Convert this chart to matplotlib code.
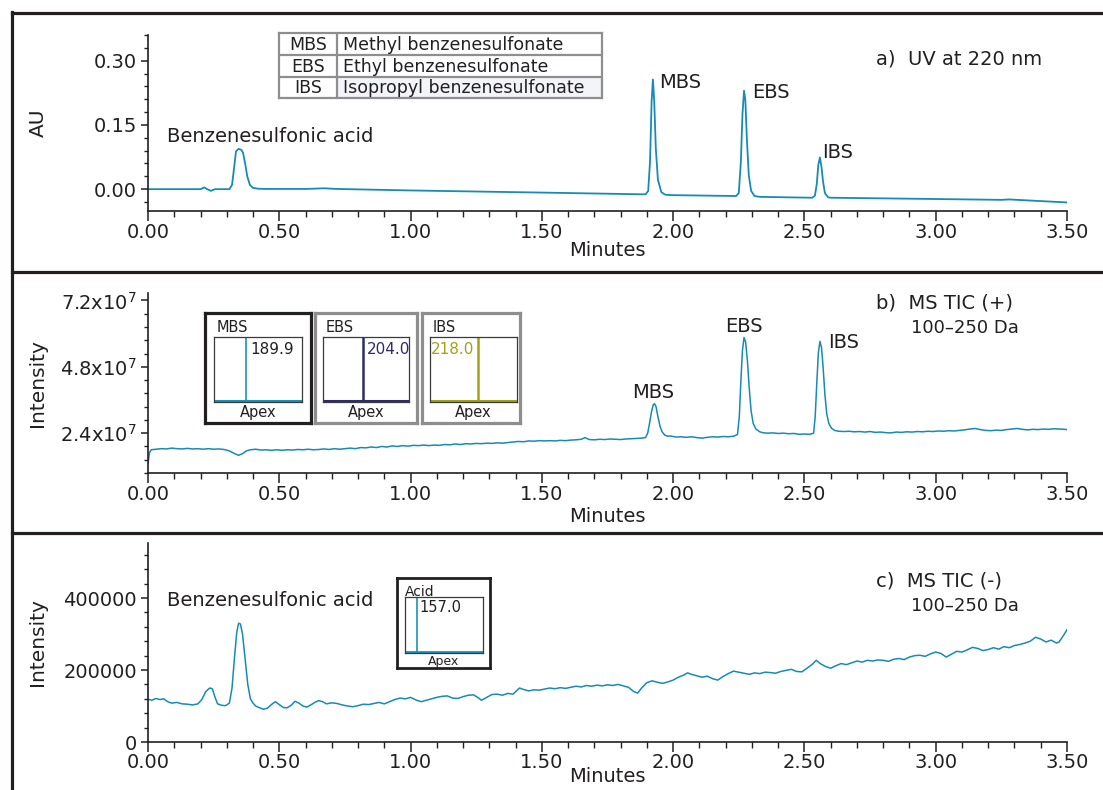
import matplotlib
matplotlib.use("Agg")
import matplotlib.pyplot as plt
from matplotlib.lines import Line2D
from matplotlib.patches import Rectangle
import numpy as np

plt.rcParams['font.family'] = ['DejaVu Sans']
plt.rcParams['mathtext.default'] = 'regular'

# ---------------- data ----------------
# a) UV at 220 nm  (minutes, AU)
uv_t = [0.00, 0.20, 0.215, 0.225, 0.24, 0.255, 0.31, 0.32, 0.328, 0.335, 0.345, 0.355, 0.362,
        0.37, 0.378, 0.388, 0.40, 0.42, 0.45, 0.60, 0.67, 0.72, 1.00, 1.50, 1.88, 1.895, 1.905,
        1.912, 1.918, 1.923, 1.928, 1.934, 1.942, 1.955, 1.97, 2.00, 2.24, 2.25, 2.258, 2.264,
        2.270, 2.275, 2.281, 2.288, 2.297, 2.31, 2.33, 2.53, 2.540, 2.547, 2.553, 2.559, 2.565,
        2.571, 2.578, 2.59, 2.60, 3.00, 3.25, 3.28, 3.31, 3.50]
uv_v = [0.000, 0.000, 0.004, 0.000, -0.004, 0.000, 0.000, 0.010, 0.050, 0.088, 0.094, 0.092, 0.085,
        0.060, 0.030, 0.010, 0.003, 0.001, 0.0005, 0.0005, 0.002, 0.0005, -0.003, -0.008, -0.012, -0.012, -0.004,
        0.065, 0.205, 0.256, 0.205, 0.095, 0.022, -0.007, -0.013, -0.014, -0.016, -0.009, 0.065, 0.175,
        0.230, 0.208, 0.115, 0.033, -0.004, -0.016, -0.018, -0.020, -0.015, 0.012, 0.057, 0.074, 0.052,
        0.017, -0.009, -0.019, -0.020, -0.023, -0.025, -0.024, -0.025, -0.031]

# b) MS TIC (+)  (minutes, intensity x1e7)
tp_t = [0.000, 0.006, 0.012, 0.03, 0.05, 0.07, 0.09, 0.11, 0.13, 0.15, 0.17, 0.19, 0.21, 0.23, 0.25,
        0.27, 0.29, 0.31, 0.33, 0.345, 0.36, 0.375, 0.39, 0.41, 0.43, 0.45, 0.47, 0.49, 0.51, 0.53,
        0.55, 0.57, 0.59, 0.61, 0.63, 0.65, 0.67, 0.69, 0.71, 0.73, 0.75, 0.77, 0.79, 0.81, 0.83,
        0.85, 0.87, 0.89, 0.91, 0.93, 0.95, 0.97, 0.99, 1.01, 1.03, 1.05, 1.07, 1.09, 1.11, 1.13,
        1.15, 1.17, 1.19, 1.21, 1.23, 1.25, 1.27, 1.29, 1.31, 1.33, 1.35, 1.37, 1.39, 1.41, 1.43,
        1.45, 1.47, 1.49, 1.51, 1.53, 1.55, 1.57, 1.59, 1.61, 1.63, 1.65, 1.665, 1.68, 1.70, 1.72,
        1.74, 1.76, 1.78, 1.80, 1.82, 1.84, 1.86, 1.88, 1.895, 1.903, 1.910, 1.917, 1.924, 1.929,
        1.935, 1.942, 1.95, 1.958, 1.968, 1.98, 1.99, 2.01, 2.03, 2.05, 2.07, 2.09, 2.11, 2.13,
        2.15, 2.17, 2.19, 2.21, 2.23, 2.245, 2.252, 2.258, 2.264, 2.270, 2.276, 2.283, 2.29, 2.297,
        2.305, 2.315, 2.33, 2.34, 2.36, 2.38, 2.40, 2.42, 2.44, 2.46, 2.48, 2.50, 2.52, 2.535,
        2.541, 2.547, 2.553, 2.559, 2.565, 2.571, 2.578, 2.585, 2.593, 2.603, 2.615, 2.63, 2.65,
        2.67, 2.69, 2.71, 2.73, 2.75, 2.77, 2.79, 2.81, 2.83, 2.85, 2.87, 2.89, 2.91, 2.93, 2.95,
        2.97, 2.99, 3.01, 3.03, 3.05, 3.07, 3.09, 3.11, 3.13, 3.15, 3.17, 3.19, 3.21, 3.23, 3.25,
        3.27, 3.29, 3.31, 3.33, 3.35, 3.37, 3.39, 3.41, 3.43, 3.45, 3.47, 3.49, 3.50]
tp_v = [1.30, 1.70, 1.80, 1.82, 1.84, 1.83, 1.86, 1.84, 1.83, 1.85, 1.83, 1.84, 1.82, 1.84, 1.82,
        1.83, 1.81, 1.76, 1.66, 1.60, 1.66, 1.76, 1.80, 1.82, 1.79, 1.80, 1.78, 1.80, 1.78, 1.80,
        1.79, 1.81, 1.80, 1.82, 1.80, 1.81, 1.83, 1.81, 1.84, 1.82, 1.84, 1.86, 1.84, 1.88, 1.87,
        1.90, 1.88, 1.92, 1.90, 1.94, 1.92, 1.95, 1.93, 1.96, 1.95, 1.97, 1.95, 1.97, 1.96, 1.99,
        1.98, 2.01, 1.99, 2.02, 2.01, 2.03, 2.02, 2.04, 2.03, 2.05, 2.04, 2.06, 2.08, 2.10, 2.09,
        2.12, 2.11, 2.13, 2.12, 2.13, 2.12, 2.14, 2.13, 2.15, 2.16, 2.18, 2.24, 2.17, 2.16, 2.18,
        2.17, 2.19, 2.18, 2.17, 2.19, 2.20, 2.21, 2.22, 2.24, 2.40, 2.75, 3.15, 3.42, 3.47,
        3.35, 3.00, 2.65, 2.45, 2.33, 2.29, 2.30, 2.26, 2.27, 2.25, 2.27, 2.24, 2.22, 2.25,
        2.27, 2.26, 2.28, 2.27, 2.29, 2.35, 3.00, 4.30, 5.40, 5.86, 5.70, 5.00, 4.00, 3.20,
        2.75, 2.55, 2.45, 2.42, 2.40, 2.41, 2.39, 2.40, 2.38, 2.39, 2.36, 2.37, 2.36, 2.40,
        3.00, 4.20, 5.30, 5.72, 5.50, 4.80, 3.80, 3.10, 2.75, 2.58, 2.50, 2.47, 2.46,
        2.47, 2.45, 2.46, 2.44, 2.46, 2.43, 2.44, 2.42, 2.41, 2.44, 2.43, 2.45, 2.44, 2.46, 2.45,
        2.47, 2.46, 2.48, 2.47, 2.49, 2.48, 2.50, 2.52, 2.55, 2.57, 2.53, 2.50, 2.49, 2.51, 2.50,
        2.53, 2.55, 2.57, 2.54, 2.52, 2.54, 2.53, 2.55, 2.54, 2.56, 2.55, 2.54, 2.53]

# c) MS TIC (-)  (minutes, intensity x1000)
tn_t = [0.00, 0.015, 0.03, 0.045, 0.06, 0.075, 0.09, 0.11, 0.13, 0.15, 0.17, 0.19, 0.205, 0.22,
        0.235, 0.245, 0.255, 0.265, 0.28, 0.295, 0.31, 0.32, 0.33, 0.338, 0.345, 0.352, 0.36, 0.37,
        0.38, 0.39, 0.40, 0.41, 0.425, 0.44, 0.455, 0.47, 0.485, 0.50, 0.515, 0.53, 0.545, 0.56,
        0.575, 0.59, 0.605, 0.62, 0.635, 0.65, 0.665, 0.68, 0.70, 0.72, 0.74, 0.76, 0.78, 0.80,
        0.82, 0.84, 0.86, 0.88, 0.90, 0.92, 0.94, 0.96, 0.98, 1.00, 1.02, 1.04, 1.06, 1.08, 1.10,
        1.12, 1.14, 1.16, 1.18, 1.20, 1.22, 1.24, 1.26, 1.27, 1.29, 1.31, 1.33, 1.35, 1.37, 1.39,
        1.405, 1.415, 1.43, 1.45, 1.47, 1.49, 1.51, 1.53, 1.55, 1.57, 1.59, 1.61, 1.63, 1.65, 1.67,
        1.69, 1.71, 1.73, 1.75, 1.77, 1.79, 1.81, 1.83, 1.85, 1.865, 1.88, 1.90, 1.92, 1.94, 1.96,
        1.98, 2.00, 2.02, 2.04, 2.055, 2.07, 2.09, 2.11, 2.13, 2.15, 2.17, 2.19, 2.21, 2.23, 2.25,
        2.27, 2.29, 2.31, 2.33, 2.35, 2.37, 2.39, 2.41, 2.43, 2.45, 2.47, 2.49, 2.51, 2.53, 2.545,
        2.56, 2.58, 2.60, 2.62, 2.64, 2.66, 2.68, 2.70, 2.72, 2.74, 2.76, 2.78, 2.80, 2.82, 2.84,
        2.86, 2.88, 2.90, 2.92, 2.94, 2.96, 2.98, 3.00, 3.02, 3.04, 3.06, 3.08, 3.10, 3.12, 3.14,
        3.16, 3.18, 3.20, 3.22, 3.24, 3.26, 3.28, 3.30, 3.32, 3.34, 3.36, 3.38, 3.40, 3.42, 3.44,
        3.46, 3.47, 3.48, 3.49, 3.50]
tn_v = [119, 116, 121, 118, 120, 112, 108, 110, 106, 105, 103, 106, 118, 140,
        150, 148, 125, 106, 102, 101, 108, 150, 240, 305, 330, 328, 300, 230,
        160, 120, 108, 100, 95, 91, 94, 104, 112, 104, 96, 95, 102, 113,
        108, 100, 97, 103, 110, 115, 112, 106, 109, 107, 103, 100, 98, 101,
        105, 104, 107, 110, 106, 112, 118, 122, 120, 124, 117, 112, 116, 120, 124,
        127, 128, 122, 121, 126, 130, 131, 122, 116, 124, 132, 133, 130, 135, 133,
        143, 150, 146, 142, 145, 144, 147, 150, 148, 151, 149, 152, 155, 153, 157,
        155, 158, 156, 159, 157, 160, 156, 152, 140, 136, 150, 165, 170, 166, 163,
        167, 172, 180, 186, 192, 188, 184, 180, 183, 176, 172, 182, 190, 197, 194,
        191, 188, 192, 190, 194, 193, 191, 196, 199, 202, 196, 195, 205, 216, 227,
        218, 210, 205, 212, 218, 215, 220, 225, 222, 227, 225, 228, 227, 224, 230,
        232, 229, 236, 240, 241, 238, 245, 250, 246, 236, 244, 252, 250, 256, 263,
        260, 254, 257, 262, 258, 265, 262, 268, 271, 275, 280, 291, 286, 278, 283,
        275, 278, 289, 300, 312]

# tick labels
x_ticks = [0.0, 0.5, 1.0, 1.5, 2.0, 2.5, 3.0, 3.5]
x_labels = ['0.00', '0.50', '1.00', '1.50', '2.00', '2.50', '3.00', '3.50']
uv_yticks = [0.0, 0.15, 0.30]
uv_ylabels = ['0.00', '0.15', '0.30']
tp_yticks = [2.4e7, 4.8e7, 7.2e7]
tp_ylabels = ['2.4x10$^7$', '4.8x10$^7$', '7.2x10$^7$']
tn_yticks = [0, 200000, 400000]
tn_ylabels = ['0', '200000', '400000']

# compound table
tab_abbr = ['MBS', 'EBS', 'IBS']
tab_names = ['Methyl benzenesulfonate', 'Ethyl benzenesulfonate', 'Isopropyl benzenesulfonate']

# mass spectra insets
ins_names = ['MBS', 'EBS', 'IBS']
ins_mz = [189.9, 204.0, 218.0]
acid_name = 'Acid'
acid_mz = 157.0

# ---------------- styling ----------------
W, H = 1103, 790
TXT = '#231f20'
LINE = '#178bb3'
ins_colors = ['#1a92b8', '#2e2a6e', '#a3a316']
ins_label_colors = [TXT, '#2e2a6e', '#a3a316']
ins_frame_colors = ['#231f20', '#8e8e8e', '#8e8e8e']
FS = 14

fig = plt.figure(figsize=(W / 100, H / 100), dpi=100)
fig.patch.set_facecolor('white')


def px_axes(l, t, r, b, **kw):
    return fig.add_axes([l / W, 1 - b / H, (r - l) / W, (b - t) / H], **kw)


def fx(x):
    return x / W


def fy(y):
    return 1 - y / H


def style_axis(ax, yticks, ylabels, ylim, yminor, ylabel, xlab_y, xpad):
    ax.set_xlim(0, 3.5)
    ax.set_ylim(*ylim)
    for s in ['top', 'right']:
        ax.spines[s].set_visible(False)
    for s in ['left', 'bottom']:
        ax.spines[s].set_color(TXT)
        ax.spines[s].set_linewidth(1.2)
    ax.set_xticks(x_ticks)
    ax.set_xticklabels(x_labels)
    ax.set_xticks(np.arange(0, 3.51, 0.1), minor=True)
    ax.set_yticks(yticks)
    ax.set_yticklabels(ylabels)
    ax.set_yticks(yminor, minor=True)
    ax.tick_params(axis='x', which='major', length=7, width=1.1, color=TXT,
                   labelsize=FS, labelcolor=TXT, pad=xpad)
    ax.tick_params(axis='x', which='minor', length=4, width=1.0, color=TXT)
    ax.tick_params(axis='y', which='major', length=5, width=1.1, color=TXT,
                   labelsize=FS, labelcolor=TXT, pad=3)
    ax.tick_params(axis='y', which='minor', length=3, width=1.0, color=TXT)
    ax.set_xlabel('Minutes', fontsize=FS, color=TXT)
    ax.xaxis.set_label_coords(0.5, xlab_y)
    ax.xaxis.label.set_va('center')
    ax.set_ylabel(ylabel, fontsize=FS + 0.5, color=TXT)
    ax.yaxis.set_label_coords(-0.1197, 0.5)
    ax.yaxis.label.set_va('center')
    ax.patch.set_alpha(0)


# ---------------- panel a ----------------
axa = px_axes(148, 35, 1067, 211)
axa.plot(uv_t, uv_v, color=LINE, lw=1.3)
style_axis(axa, uv_yticks, uv_ylabels, (-0.051, 0.358),
           np.arange(-0.03, 0.36, 0.03), 'AU', -0.227, 2)
fig.text(fx(167), fy(137), 'Benzenesulfonic acid', fontsize=FS, color=TXT, va='center')
fig.text(fx(659), fy(83), 'MBS', fontsize=FS, color=TXT, va='center')
fig.text(fx(752), fy(93), 'EBS', fontsize=FS, color=TXT, va='center')
fig.text(fx(822), fy(153), 'IBS', fontsize=FS, color=TXT, va='center')
fig.text(fx(876), fy(59), 'a)  UV at 220 nm', fontsize=FS, color=TXT, va='center')

# compound table
tab = px_axes(279, 33, 602, 98)
tab.set_xlim(279, 602)
tab.set_ylim(98, 33)
tab.set_xticks([])
tab.set_yticks([])
for s in tab.spines.values():
    s.set_color('#8e8e8e')
    s.set_linewidth(1.6)
tab.add_patch(Rectangle((337, 77), 265, 21, facecolor='#f2f4fa', edgecolor='none'))
for yy in [55, 77]:
    tab.plot([279, 602], [yy, yy], color='#8e8e8e', lw=1.6)
tab.plot([337, 337], [33, 98], color='#8e8e8e', lw=1.6)
row_y = [45, 66.5, 88]
for ab, nm, yy in zip(tab_abbr, tab_names, row_y):
    tab.text(308, yy, ab, fontsize=12.5, color=TXT, ha='center', va='center')
    tab.text(343, yy, nm, fontsize=12.5, color=TXT, ha='left', va='center')

# ---------------- panel b ----------------
axb = px_axes(148, 293, 1067, 473)
axb.plot(tp_t, np.array(tp_v) * 1e7, color=LINE, lw=1.1)
style_axis(axb, tp_yticks, tp_ylabels, (0.96e7, 7.47e7),
           np.arange(0.96e7, 7.5e7, 0.48e7), 'Intensity', -0.239, 2)
fig.text(fx(653), fy(392), 'MBS', fontsize=FS, color=TXT, ha='center', va='center')
fig.text(fx(744), fy(327), 'EBS', fontsize=FS, color=TXT, ha='center', va='center')
fig.text(fx(828), fy(342), 'IBS', fontsize=FS, color=TXT, va='center')
fig.text(fx(876), fy(303), 'b)  MS TIC (+)', fontsize=FS, color=TXT, va='center')
fig.text(fx(911), fy(328), '100\u2013250 Da', fontsize=13, color=TXT, va='center')

# spectra insets
outer_boxes = [(205, 313, 311, 423), (315, 313, 417, 423), (422, 313, 520, 423)]
inner_boxes = [(214, 337, 302, 402), (323, 337, 409, 402), (430, 337, 517, 402)]
line_frac = [0.36, 0.465, 0.55]
for i in range(3):
    ol, ot, orr, ob = outer_boxes[i]
    fr = px_axes(ol, ot, orr, ob)
    fr.set_xticks([])
    fr.set_yticks([])
    for s in fr.spines.values():
        s.set_color(ins_frame_colors[i])
        s.set_linewidth(2.3)
    il, it, ir, ib = inner_boxes[i]
    ia = px_axes(il, it, ir, ib)
    ia.set_zorder(3)
    span = 100.0
    ia.set_xlim(ins_mz[i] - line_frac[i] * span, ins_mz[i] + (1 - line_frac[i]) * span)
    ia.set_ylim(-0.02, 1.0)
    ia.vlines(ins_mz[i], 0, 1.0, color=ins_colors[i], lw=1.2 if i == 0 else 1.8)
    ia.plot(ia.get_xlim(), [0, 0], color=ins_colors[i], lw=2.2)
    ia.set_xticks([])
    ia.set_yticks([])
    for s in ia.spines.values():
        s.set_color('#3a3a3a')
        s.set_linewidth(0.9)
    fig.text(fx(il + 3), fy(328), ins_names[i], fontsize=10.5, color=TXT, va='center')
    lab = '%.1f' % ins_mz[i]
    if i < 2:
        ia.text(ins_mz[i] + 0.05 * span, 0.8, lab, fontsize=11, color=ins_label_colors[i], va='center')
    else:
        ia.text(ins_mz[i] - 0.04 * span, 0.8, lab, fontsize=11, color=ins_label_colors[i],
                va='center', ha='right')
    fig.text(fx((il + ir) / 2), fy(412), 'Apex', fontsize=10.5, color=TXT, ha='center', va='center')

# ---------------- panel c ----------------
axc = px_axes(148, 543, 1067, 742)
axc.plot(tn_t, np.array(tn_v) * 1000, color=LINE, lw=1.1)
style_axis(axc, tn_yticks, tn_ylabels, (0, 553000),
           np.arange(0, 553000, 40000), 'Intensity', -0.171, 1)
fig.text(fx(167), fy(600), 'Benzenesulfonic acid', fontsize=FS, color=TXT, va='center')
fig.text(fx(876), fy(581), 'c)  MS TIC (-)', fontsize=FS, color=TXT, va='center')
fig.text(fx(911), fy(606), '100\u2013250 Da', fontsize=13, color=TXT, va='center')

# acid inset
fr = px_axes(397, 578, 490, 668)
fr.set_xticks([])
fr.set_yticks([])
for s in fr.spines.values():
    s.set_color('#231f20')
    s.set_linewidth(2.0)
ia = px_axes(405, 597, 483, 653)
ia.set_zorder(3)
ia.set_xlim(acid_mz - 0.15 * 100, acid_mz + 0.85 * 100)
ia.set_ylim(-0.02, 1.0)
ia.vlines(acid_mz, 0, 1.0, color=ins_colors[0], lw=1.2)
ia.plot(ia.get_xlim(), [0, 0], color=ins_colors[0], lw=2.0)
ia.set_xticks([])
ia.set_yticks([])
for s in ia.spines.values():
    s.set_color('#3a3a3a')
    s.set_linewidth(0.9)
ia.text(acid_mz + 0.04 * 100, 0.8, '%.1f' % acid_mz, fontsize=10.5, color=TXT, va='center')
fig.text(fx(405), fy(592), acid_name, fontsize=10, color=TXT, va='center')
fig.text(fx(444), fy(662), 'Apex', fontsize=9, color=TXT, ha='center', va='center')

# ---------------- panel borders ----------------
for yy in [13, 272, 533]:
    fig.add_artist(Line2D([fx(12), 1.0], [fy(yy), fy(yy)], transform=fig.transFigure,
                          color='#231f20', lw=2.3))
fig.add_artist(Line2D([fx(12), fx(12)], [fy(12), 0.0], transform=fig.transFigure,
                      color='#231f20', lw=2.3))

fig.savefig('out.png', dpi=100)
